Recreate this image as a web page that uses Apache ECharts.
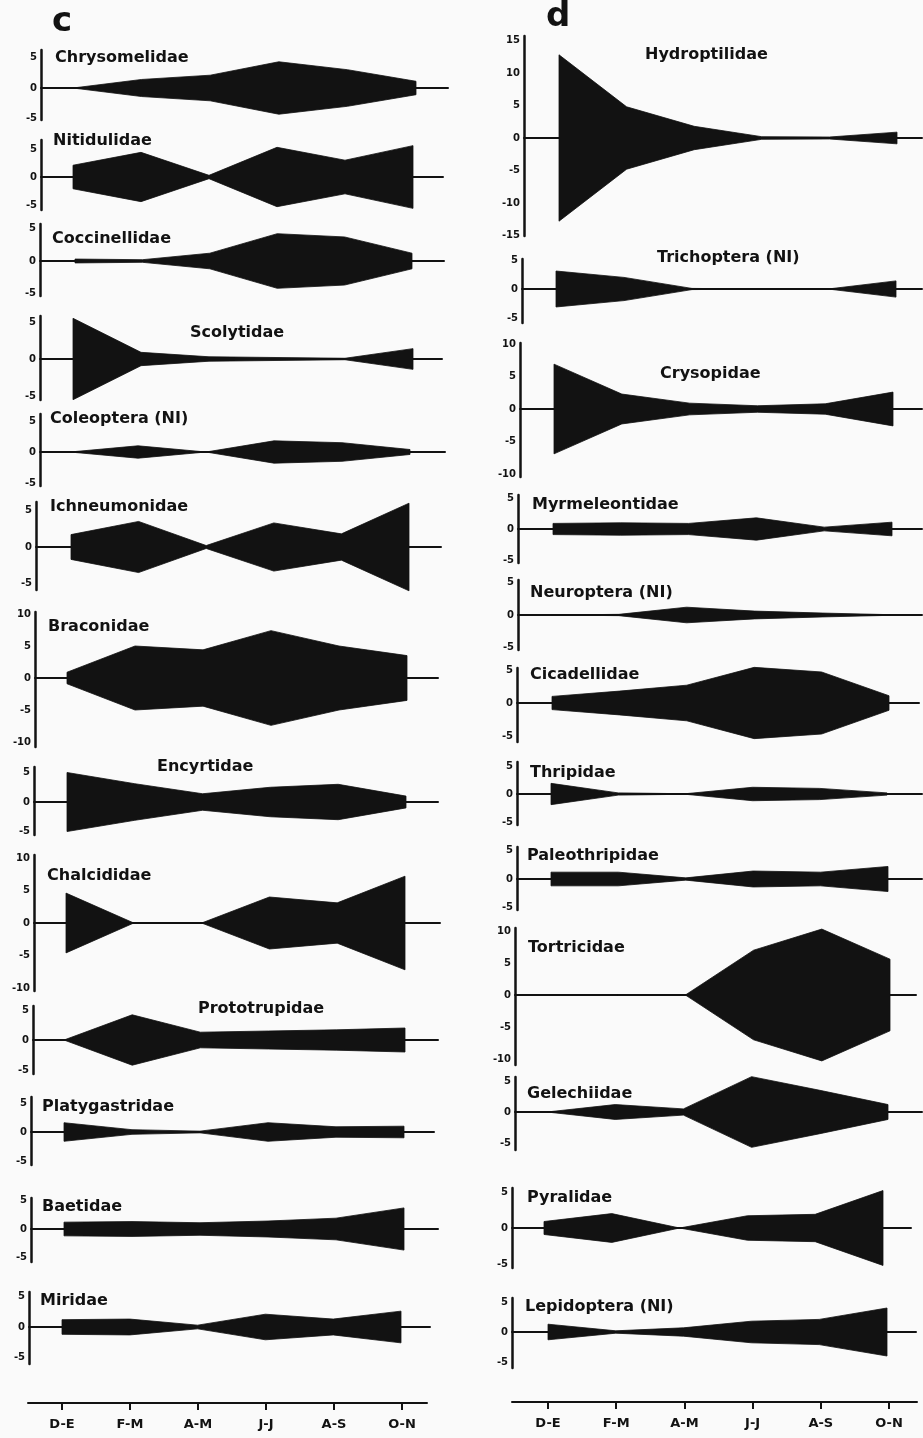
<!DOCTYPE html>
<html><head><meta charset="utf-8">
<script src="https://cdn.jsdelivr.net/npm/echarts@6/dist/echarts.min.js"></script>
<style>html,body{margin:0;padding:0;background:#fafafa}#chart{width:923px;height:1438px}</style>
</head><body><div id="chart"></div>
<script>
// ---------- data ----------
const months = ['D-E', 'F-M', 'A-M', 'J-J', 'A-S', 'O-N'];
const ticks5 = [-5, 0, 5];
const ticks10 = [-10, -5, 0, 5, 10];
const ticks15 = [-15, -10, -5, 0, 5, 10, 15];

// column c
const chrysomelidae  = [0, 1.4, 2.1, 4.3, 3.0, 1.1];
const nitidulidae    = [2.1, 4.4, 0.3, 5.3, 3.0, 5.6];
const coccinellidae  = [0.3, 0.2, 1.2, 4.2, 3.7, 1.2];
const scolytidae     = [5.5, 0.9, 0.3, 0.2, 0.1, 1.4];
const coleopteraNI   = [0, 1.0, 0, 1.8, 1.5, 0.4];
const ichneumonidae  = [1.7, 3.5, 0.2, 3.3, 1.8, 6.0];
const braconidae     = [0.9, 5.0, 4.4, 7.4, 5.0, 3.5];
const encyrtidae     = [5.0, 3.1, 1.4, 2.5, 3.0, 1.0];
const chalcididae    = [4.6, 0, 0, 4.0, 3.1, 7.2];
const prototrupidae  = [0, 4.2, 1.3, 1.5, 1.7, 2.0];
const platygastridae = [1.6, 0.4, 0.15, 1.6, 0.9, 1.0];
const baetidae       = [1.2, 1.3, 1.1, 1.4, 1.9, 3.7];
const miridae        = [1.2, 1.3, 0.3, 2.1, 1.3, 2.6];
// column d
const hydroptilidae  = [12.8, 4.8, 1.8, 0.2, 0.15, 0.9];
const trichopteraNI  = [3.1, 2.0, 0.1, 0, 0, 1.4];
const crysopidae     = [6.9, 2.3, 0.9, 0.5, 0.8, 2.6];
const myrmeleontidae = [0.9, 1.0, 0.9, 1.8, 0.3, 1.1];
const neuropteraNI   = [0, 0.1, 1.2, 0.6, 0.3, 0.05];
const cicadellidae   = [1.0, 1.8, 2.7, 5.4, 4.7, 1.1];
const thripidae      = [1.9, 0.2, 0.05, 1.2, 1.0, 0.2];
const paleothripidae = [1.2, 1.2, 0.2, 1.4, 1.2, 2.2];
const tortricidae    = [0, 0, 0, 7.0, 10.3, 5.6];
const gelechiidae    = [0, 1.2, 0.5, 5.7, 3.5, 1.2];
const pyralidae      = [0.9, 2.0, 0, 1.7, 1.9, 5.2];
const lepidopteraNI  = [1.3, 0.2, 0.7, 1.8, 2.1, 4.0];

const panels = [
  ['Chrysomelidae', chrysomelidae, ticks5],
  ['Nitidulidae', nitidulidae, ticks5],
  ['Coccinellidae', coccinellidae, ticks5],
  ['Scolytidae', scolytidae, ticks5],
  ['Coleoptera (NI)', coleopteraNI, ticks5],
  ['Ichneumonidae', ichneumonidae, ticks5],
  ['Braconidae', braconidae, ticks10],
  ['Encyrtidae', encyrtidae, ticks5],
  ['Chalcididae', chalcididae, ticks10],
  ['Prototrupidae', prototrupidae, ticks5],
  ['Platygastridae', platygastridae, ticks5],
  ['Baetidae', baetidae, ticks5],
  ['Miridae', miridae, ticks5],
  ['Hydroptilidae', hydroptilidae, ticks15],
  ['Trichoptera (NI)', trichopteraNI, ticks5],
  ['Crysopidae', crysopidae, ticks10],
  ['Myrmeleontidae', myrmeleontidae, ticks5],
  ['Neuroptera (NI)', neuropteraNI, ticks5],
  ['Cicadellidae', cicadellidae, ticks5],
  ['Thripidae', thripidae, ticks5],
  ['Paleothripidae', paleothripidae, ticks5],
  ['Tortricidae', tortricidae, ticks10],
  ['Gelechiidae', gelechiidae, ticks5],
  ['Pyralidae', pyralidae, ticks5],
  ['Lepidoptera (NI)', lepidopteraNI, ticks5]
];

// ---------- layout (pixels) ----------
// [axisX, lineEndX, firstMonthX, lastMonthX, axisTop, zeroY, axisBottom, pxPerUnit, titleX, titleY]
const layout = [
  [41, 448, 73, 416, 50, 88, 120, 6.1, 55, 58],
  [41, 443, 73, 413, 140, 177, 210, 5.6, 53, 141],
  [40, 444, 75, 412, 224, 261, 296, 6.5, 52, 239],
  [40, 442, 73, 413, 316, 359, 400, 7.4, 190, 333],
  [40, 445, 70, 410, 414, 452, 486, 6.2, 50, 419],
  [36, 441, 71, 409, 502, 547, 590, 7.3, 50, 507],
  [35, 438, 67, 407, 612, 678, 747, 6.4, 48, 627],
  [34, 438, 67, 406, 767, 802, 835, 5.9, 157, 767],
  [34, 440, 66, 405, 855, 923, 991, 6.5, 47, 876],
  [33, 438, 64, 405, 1006, 1040, 1074, 6.0, 198, 1009],
  [31, 434, 64, 404, 1097, 1132, 1165, 5.8, 42, 1107],
  [31, 438, 64, 404, 1198, 1229, 1262, 5.7, 42, 1207],
  [29, 430, 62, 401, 1292, 1327, 1364, 6.1, 40, 1301],
  [524, 922, 559, 897, 36, 138, 236, 6.5, 645, 55],
  [522, 922, 556, 896, 259, 289, 323, 5.8, 657, 258],
  [520, 922, 554, 893, 343, 409, 477, 6.5, 660, 374],
  [518, 922, 553, 892, 495, 529, 563, 6.2, 532, 505],
  [518, 922, 551, 890, 580, 615, 650, 6.5, 530, 593],
  [517, 919, 552, 889, 668, 703, 742, 6.6, 530, 675],
  [517, 922, 551, 887, 762, 794, 825, 5.6, 530, 773],
  [517, 922, 551, 888, 847, 879, 910, 5.7, 527, 856],
  [515, 916, 549, 890, 928, 995, 1065, 6.4, 528, 948],
  [515, 922, 547, 888, 1077, 1112, 1150, 6.2, 527, 1094],
  [512, 911, 544, 883, 1188, 1228, 1268, 7.2, 527, 1198],
  [512, 916, 548, 887, 1298, 1332, 1368, 6.0, 525, 1307]
];
// bottom month axes: [lineStartX, lineEndX, firstTickX, lastTickX, lineY]
const bottomAxes = [
  [28, 427, 62, 402, 1403],
  [512, 917, 548, 889, 1402]
];

// ---------- build option ----------
const INK = '#121212';
const FONT = 'DejaVu Sans';
const grid = [], xAxis = [], yAxis = [], series = [], graphic = [];

panels.forEach(([name, values, ticks], i) => {
  const [x0, x1, de, on, top, zero, bottom, ppu, tx, ty] = layout[i];
  const sp = (on - de) / 5;
  grid.push({ left: x0, top: top, width: x1 - x0, height: bottom - top });
  xAxis.push({
    type: 'value', gridIndex: i,
    min: (x0 - de) / sp, max: (x1 - de) / sp,
    axisLine: { show: true, onZero: true, lineStyle: { color: INK, width: 2 } },
    axisTick: { show: false }, axisLabel: { show: false }, splitLine: { show: false }
  });
  yAxis.push({
    type: 'value', gridIndex: i,
    min: -(bottom - zero) / ppu, max: (zero - top) / ppu,
    axisLine: { show: true, onZero: false, lineStyle: { color: INK, width: 2.5 } },
    axisTick: { show: false }, splitLine: { show: false },
    axisLabel: {
      customValues: ticks, color: INK, fontSize: 10, fontWeight: 'bold',
      fontFamily: FONT, margin: 4
    }
  });
  series.push({
    type: 'custom', name: name, xAxisIndex: i, yAxisIndex: i, silent: true, clip: false,
    data: values.map((v, k) => [k, v]),
    renderItem: (params, api) => {
      if (params.dataIndex !== 0) return;
      const upper = values.map((v, k) => api.coord([k, v]));
      const lower = values.map((v, k) => api.coord([k, -v])).reverse();
      return {
        type: 'polygon',
        shape: { points: upper.concat(lower) },
        style: { fill: INK, stroke: INK, lineWidth: 0.8, lineJoin: 'round' }
      };
    }
  });
  graphic.push({
    type: 'text', x: tx, y: ty, silent: true,
    style: { text: name, fill: INK, font: 'bold 16px "' + FONT + '"', align: 'left', verticalAlign: 'middle' }
  });
});

bottomAxes.forEach(([x0, x1, t0, t5, ly], j) => {
  const gi = panels.length + j;
  const sp = (t5 - t0) / 5;
  grid.push({ left: x0, top: ly - 20, width: x1 - x0, height: 20 });
  xAxis.push({
    type: 'value', gridIndex: gi, position: 'bottom',
    min: (x0 - t0) / sp, max: (x1 - t0) / sp,
    axisLine: { show: true, onZero: false, lineStyle: { color: INK, width: 2 } },
    axisTick: { show: true, customValues: months.map((m, k) => k), length: 7, lineStyle: { color: INK, width: 2 } },
    axisLabel: {
      customValues: months.map((m, k) => k), formatter: v => months[Math.round(v)],
      color: INK, fontSize: 13, fontWeight: 'bold', fontFamily: FONT, margin: 15
    },
    splitLine: { show: false }
  });
  yAxis.push({ type: 'value', gridIndex: gi, show: false, min: 0, max: 1 });
});

graphic.push(
  { type: 'text', x: 52, y: 22, silent: true, style: { text: 'c', fill: INK, font: 'bold 34px "' + FONT + '"', align: 'left', verticalAlign: 'middle' } },
  { type: 'text', x: 546, y: 17, silent: true, style: { text: 'd', fill: INK, font: 'bold 34px "' + FONT + '"', align: 'left', verticalAlign: 'middle' } }
);

const chart = echarts.init(document.getElementById('chart'), null, { renderer: 'canvas' });
chart.setOption({
  backgroundColor: '#fafafa',
  animation: false,
  grid, xAxis, yAxis, series, graphic
});
</script>
</body></html>
